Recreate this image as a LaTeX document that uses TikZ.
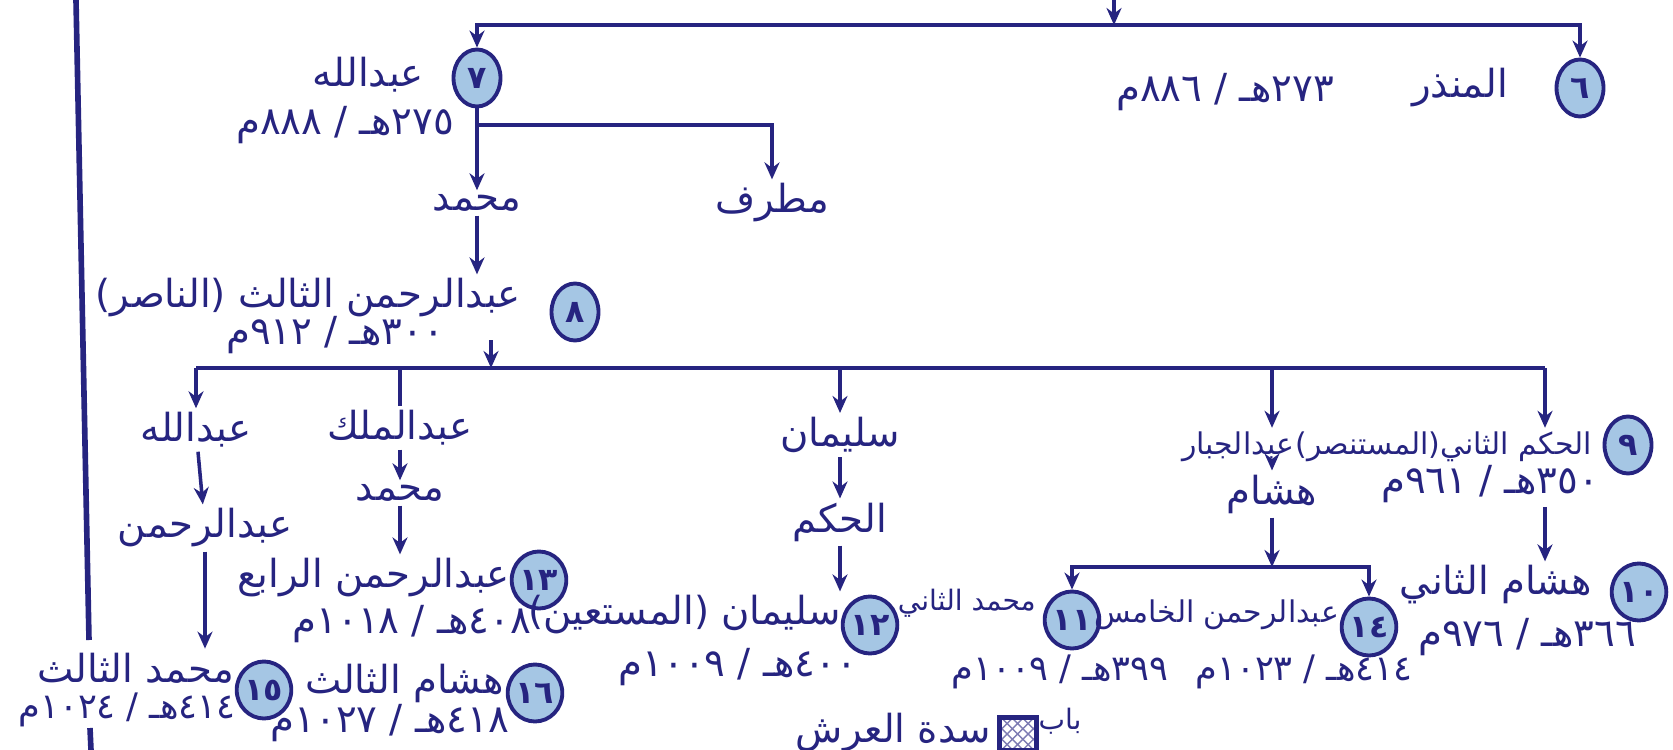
\documentclass[tikz,border=0pt]{standalone}
\usepackage{fontspec}
\newfontfamily\arabicfont[Script=Arabic]{DejaVu Sans}
\TeXXeTstate=1
\usetikzlibrary{arrows.meta,shapes.geometric,patterns}
\definecolor{ink}{RGB}{38,36,128}
\definecolor{disc}{RGB}{165,198,228}
\newcommand{\artext}[1]{\beginR #1\endR}

\begin{document}
\begin{tikzpicture}[x=0.1mm,y=-0.1mm,
	conn/.style={draw=ink, line width=1pt},
	arr/.style={conn, -{Stealth[length=1.7mm,width=1.5mm]}},
	ruler/.style={ellipse, draw=ink, line width=1.1pt, fill=disc, minimum width=4.7mm, minimum height=5.7mm, inner sep=0pt, text=ink, font=\arabicfont\bfseries\fontsize{9}{10}\selectfont},
	person/.style={text=ink, inner sep=1pt, font=\arabicfont\fontsize{11}{13}\selectfont},
	tight/.style={person, font=\arabicfont\fontsize{8.5}{10}\selectfont},
	years/.style={text=ink, inner sep=1pt, font=\arabicfont\fontsize{11}{13}\selectfont},
	smallyears/.style={years, font=\arabicfont\fontsize{10}{12}\selectfont}]

\useasboundingbox (0,0) rectangle (1673,750);
\fill[white] (0,0) rectangle (1673,750);

\draw[ink, line width=1.6pt] (76,0) -- (89,640);
\draw[ink, line width=1.6pt] (90,728) -- (91,750);

\foreach \id/\x/\y/\num in {6/1580/88/٦, 7/477/78/٧, 8/575/312/٨, 9/1628/445/٩, 10/1639/592/١٠, 11/1072/620/١١, 12/870/625/١٢, 13/539/580/١٣, 14/1369/627/١٤, 15/264/690/١٥, 16/535/693/١٦}
	\node[ruler] (c\id) at (\x,\y) {\num};

\node[person, anchor=east] (n6) at (1512,88) {\artext{المنذر}};
\node[years] (d6) at (1225,92) {\artext{٢٧٣هـ / ٨٨٦م}};
\node[person, anchor=east] (n7) at (428,75) {\artext{عبدالله}};
\node[years] (d7) at (345,125) {\artext{٢٧٥هـ / ٨٨٨م}};
\node[person] (m7) at (477,203) {\artext{محمد}};
\node[person] (mt) at (772,203) {\artext{مطرف}};
\node[person, anchor=east] (n8) at (525,298) {\artext{عبدالرحمن الثالث (الناصر)}};
\node[years] (d8) at (335,335) {\artext{٣٠٠هـ / ٩١٢م}};

\node[person] (a1) at (196,430) {\artext{عبدالله}};
\node[person] (a2) at (400,428) {\artext{عبدالملك}};
\node[person] (a3) at (840,435) {\artext{سليمان}};
\node[tight, anchor=east] (a4) at (1298,447) {\artext{عبدالجبار}};
\node[tight, anchor=east] (n9) at (1596,447) {\artext{الحكم الثاني(المستنصر)}};
\node[years] (d9) at (1490,484) {\artext{٣٥٠هـ / ٩٦١م}};

\node[person] (a1b) at (205,528) {\artext{عبدالرحمن}};
\node[person] (a2b) at (400,493) {\artext{محمد}};
\node[person] (a3b) at (840,522) {\artext{الحكم}};
\node[person] (a4b) at (1272,494) {\artext{هشام}};

\node[person, anchor=east] (n10) at (1596,585) {\artext{هشام الثاني}};
\node[years] (d10) at (1527,637) {\artext{٣٦٦هـ / ٩٧٦م}};
\node[tight, anchor=east, font=\arabicfont\fontsize{8}{10}\selectfont] (n11) at (1040,603) {\artext{محمد الثاني}};
\node[smallyears] (d11) at (1060,672) {\artext{٣٩٩هـ / ١٠٠٩م}};
\node[person, anchor=east] (n12) at (845,615) {\artext{سليمان (المستعين)}};
\node[years] (d12) at (738,667) {\artext{٤٠٠هـ / ١٠٠٩م}};
\node[person, anchor=east] (n13) at (514,578) {\artext{عبدالرحمن الرابع}};
\node[years] (d13) at (412,624) {\artext{٤٠٨هـ / ١٠١٨م}};
\node[tight, anchor=east] (n14) at (1343,615) {\artext{عبدالرحمن الخامس}};
\node[smallyears] (d14) at (1304,672) {\artext{٤١٤هـ / ١٠٢٣م}};
\node[person, anchor=east] (n15) at (238,668) {\artext{محمد الثالث}};
\node[smallyears] (d15) at (127,710) {\artext{٤١٤هـ / ١٠٢٤م}};
\node[person, anchor=east] (n16) at (508,683) {\artext{هشام الثالث}};
\node[years] (d16) at (390,723) {\artext{٤١٨هـ / ١٠٢٧م}};

\coordinate (src) at (1114,0);
\coordinate (j0) at (1114,25);
\draw[arr] (src) -- (j0);
\draw[arr] (j0) -| (c7);
\draw[arr] (j0) -| (c6);

\coordinate (j7) at (477,125);
\draw[arr] (c7) -- (m7);
\draw[arr] (j7) -| (mt);
\draw[arr] (m7) -- (m7 |- n8.north);

\coordinate (s8) at (491,340);
\coordinate (j8) at (491,368);
\coordinate (l1) at (196,368);
\coordinate (l4) at (1272,368);
\coordinate (l5) at (1545,368);
\draw[arr] (s8) -- (j8);
\draw[conn] (l1) -- (l5);
\draw[arr] (l1) -- (a1);
\draw[conn] (a2 |- l1) -- (a2);
\draw[arr] (a3 |- l1) -- (a3);
\draw[arr] (l4) -- (l4 |- a4.north);
\draw[arr] (l5) -- (l5 |- n9.north);

\draw[arr] (a1) -- (a1b);
\draw[arr] (a2) -- (a2b);
\draw[arr] (a3) -- (a3b);
\draw[arr] (a1b) -- (a1b |- n15.north);
\draw[arr] (a2b) -- (a2b |- n13.north);
\draw[arr] (a3b) -- (a3b |- n12.north);

\coordinate (j11) at (1272,567);
\draw[arr] (l4 |- a4.south) -- (a4b);
\draw[arr] (a4b) -- (j11);
\draw[arr] (j11) -| (c11);
\draw[arr] (j11) -| (c14);
\draw[arr] (l5 |- d9.south) -- (l5 |- n10.north);

\node[draw=ink, line width=1.2pt, pattern=crosshatch, pattern color=ink!60, minimum width=3.7mm, minimum height=3.3mm, inner sep=0pt] (key) at (1018,734) {};
\node[years, font=\arabicfont\fontsize{8}{9}\selectfont] (gate) at (1060,721) {\artext{باب}};
\node[person, anchor=east] (throne) at (995,733) {\artext{سدة العرش}};
\end{tikzpicture}
\end{document}
